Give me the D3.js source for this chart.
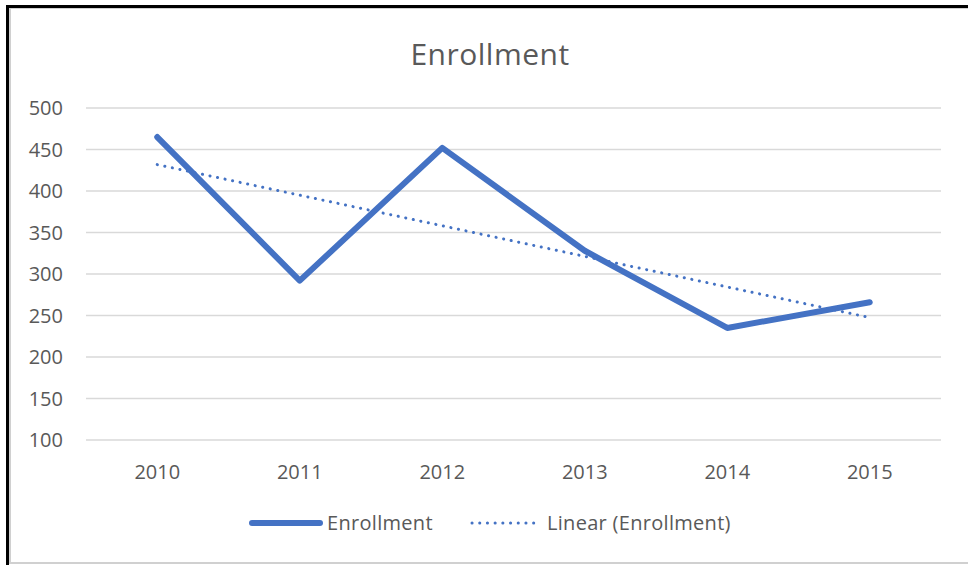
<!DOCTYPE html>
<html>
<head>
<meta charset="utf-8">
<script src="https://cdn.jsdelivr.net/npm/d3@7"></script>
<style>
  body { margin: 0; background: #fff; }
  text { font-family: "Open Sans", sans-serif; fill: #595959; }
</style>
</head>
<body>
<div id="chart"></div>
<script>
const years = ["2010", "2011", "2012", "2013", "2014", "2015"]
const enrollment = [465, 292, 452, 328, 235, 266]
const yTicks = [100, 150, 200, 250, 300, 350, 400, 450, 500]

const width = 968, height = 565
const blue = "#4472C4"

const svg = d3.select("#chart").append("svg")
  .attr("width", width)
  .attr("height", height)

// frame
svg.append("rect").attr("x", 10).attr("y", 8).attr("width", 970).attr("height", 555)
  .attr("fill", "#fff").attr("stroke", "#d0d0d0").attr("stroke-width", 2)
svg.append("line").attr("x1", 7.5).attr("x2", 7.5).attr("y1", 5).attr("y2", 565)
  .attr("stroke", "#000").attr("stroke-width", 3)
svg.append("line").attr("x1", 6).attr("x2", 968).attr("y1", 6.5).attr("y2", 6.5)
  .attr("stroke", "#000").attr("stroke-width", 3)

const x = d3.scaleBand().domain(years).range([86, 941])
const y = d3.scaleLinear().domain([100, 500]).range([440, 108])

// grid
svg.append("g")
  .selectAll("line")
  .data(yTicks)
  .enter().append("line")
  .attr("x1", 86).attr("x2", 941)
  .attr("y1", d => y(d)).attr("y2", d => y(d))
  .attr("stroke", "#d9d9d9")
  .attr("stroke-width", 1.5)

// y axis labels
svg.append("g")
  .selectAll("text")
  .data(yTicks)
  .enter().append("text")
  .attr("x", 63)
  .attr("y", d => y(d))
  .attr("dy", "0.35em")
  .attr("text-anchor", "end")
  .style("font-size", "20px")
  .text(d => d)

// x axis labels
svg.append("g")
  .selectAll("text")
  .data(years)
  .enter().append("text")
  .attr("x", d => x(d) + x.bandwidth() / 2)
  .attr("y", 472)
  .attr("dy", "0.35em")
  .attr("text-anchor", "middle")
  .style("font-size", "20px")
  .text(d => d)

// title
svg.append("text")
  .attr("x", 490).attr("y", 54).attr("dy", "0.35em")
  .attr("text-anchor", "middle")
  .style("font-size", "30px")
  .style("letter-spacing", "0.5px")
  .text("Enrollment")

// linear trend (least squares fit of the series)
const n = enrollment.length
const mx = d3.mean(d3.range(n)), my = d3.mean(enrollment)
const slope = d3.sum(enrollment, (v, i) => (i - mx) * (v - my)) / d3.sum(d3.range(n), i => (i - mx) * (i - mx))
const icpt = my - slope * mx
const trend = years.map((yr, i) => icpt + slope * i)

const line = d3.line()
  .x((d, i) => x(years[i]) + x.bandwidth() / 2)
  .y(d => y(d))

svg.append("path")
  .datum(trend)
  .attr("d", line)
  .attr("fill", "none")
  .attr("stroke", blue)
  .attr("stroke-width", 3)
  .attr("stroke-linecap", "round")
  .attr("stroke-dasharray", "0.1 7.6")

svg.append("path")
  .datum(enrollment)
  .attr("d", line)
  .attr("fill", "none")
  .attr("stroke", blue)
  .attr("stroke-width", 6)
  .attr("stroke-linejoin", "round")
  .attr("stroke-linecap", "round")

// legend
const leg = svg.append("g")
leg.append("line").attr("x1", 252).attr("x2", 320).attr("y1", 523).attr("y2", 523)
  .attr("stroke", blue).attr("stroke-width", 6).attr("stroke-linecap", "round")
leg.append("text").attr("x", 327).attr("y", 523).attr("dy", "0.35em")
  .style("font-size", "20px").style("letter-spacing", "0.3px").text("Enrollment")
leg.append("line").attr("x1", 472).attr("x2", 536).attr("y1", 523).attr("y2", 523)
  .attr("stroke", blue).attr("stroke-width", 3).attr("stroke-linecap", "round")
  .attr("stroke-dasharray", "0.1 7.6")
leg.append("text").attr("x", 547).attr("y", 523).attr("dy", "0.35em")
  .style("font-size", "20px").style("letter-spacing", "0.3px").text("Linear (Enrollment)")
</script>
</body>
</html>
